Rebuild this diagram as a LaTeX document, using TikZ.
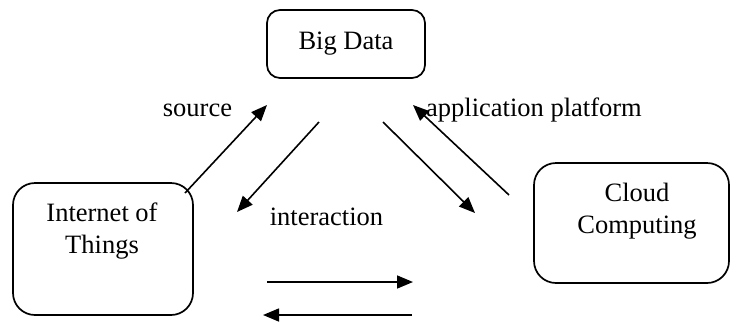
\documentclass[tikz,border=0pt]{standalone}
\usepackage{fontspec}
\setmainfont{Liberation Serif}
\usetikzlibrary{arrows.meta}

\begin{document}
\begin{tikzpicture}[x=1pt, y=-1pt,
		box/.style={draw, line width=1.7pt, inner sep=0pt},
		lbl/.style={inner sep=0pt, font=\fontsize{26.5}{32}\selectfont, align=center},
		arr/.style={-{Triangle[length=16pt, width=13pt]}, line width=1.6pt}]
			\useasboundingbox (0,0) rectangle (730,325);
			
			% Draw boxes
			\node[box, lbl, rounded corners=13pt, minimum width=158pt, minimum height=68pt] (bigdata) at (346,44) {Big Data};
			\node[box, rounded corners=22pt, minimum width=180pt, minimum height=132pt] (iot) at (103,249) {};
			\node[box, rounded corners=22pt, minimum width=195pt, minimum height=120pt] (cloud) at (631.5,223) {};
			\node[lbl] (iottext) at (102,231) {Internet of\\Things};
			\node[lbl] (cloudtext) at (637,211) {Cloud\\Computing};
			
			% Labels
			\node[lbl] (source) at (197.5,110) {source};
			\node[lbl, anchor=west] (platform) at (426,110) {application platform};
			\node[lbl] (interaction) at (326.5,217) {interaction};
			
			% Arrow ends
			\coordinate (S1) at (185,193);
			\coordinate (S2) at (267,105);
			\coordinate (D1) at (319,122);
			\coordinate (D2) at (237,212);
			\coordinate (R1) at (383,122);
			\coordinate (R2) at (475,213);
			\coordinate (P1) at (509,195);
			\coordinate (P2) at (413,105);
			\coordinate (H1) at (267,282);
			\coordinate (H2) at (413,282);
			\coordinate (H3) at (412,315);
			\coordinate (H4) at (263,315);
			
			% Draw arrows
			\draw[arr] (S1) -- (S2);
			\draw[arr] (D1) -- (D2);
			\draw[arr] (R1) -- (R2);
			\draw[arr] (P1) -- (P2);
			\draw[arr] (H1) -- (H2);
			\draw[arr] (H3) -- (H4);
		\end{tikzpicture}
\end{document}
